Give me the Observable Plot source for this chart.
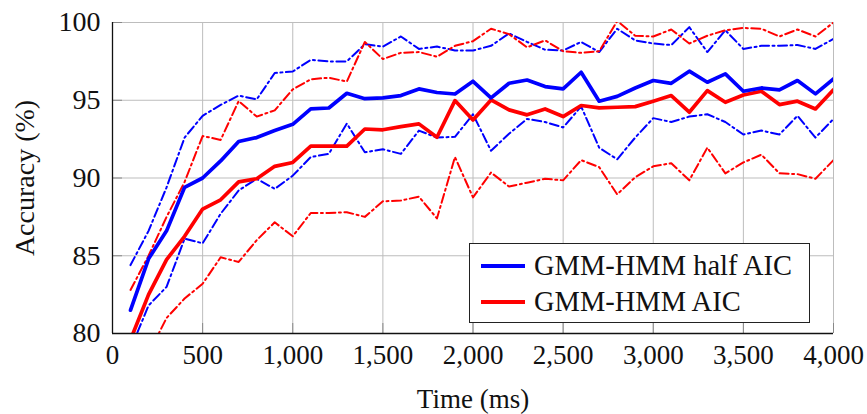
<!DOCTYPE html>
<html>
<head>
<meta charset="utf-8">
<script src="https://cdn.jsdelivr.net/npm/d3@7"></script>
<script src="https://cdn.jsdelivr.net/npm/@observablehq/plot@0.6"></script>
<style>
  html, body { margin: 0; padding: 0; background: white; }
  #wrap { position: relative; width: 867px; height: 414px; }
  .legend { position: absolute; left: 469px; top: 243px; width: 339px; height: 78px;
    border: 1.3px solid #222; background: white; font-family: "Liberation Serif", serif; font-size: 28.5px; color: #111; }
  .legend .row { position: absolute; left: 11px; height: 30px; display: flex; align-items: center; white-space: nowrap; }
  .legend .sw { width: 44px; height: 4px; margin-right: 9px; }
</style>
</head>
<body>
<div id="wrap"></div>
<script>
const times = [100,200,300,400,500,600,700,800,900,1000,1100,1200,1300,1400,1500,1600,1700,1800,1900,2000,
               2100,2200,2300,2400,2500,2600,2700,2800,2900,3000,3100,3200,3300,3400,3500,3600,3700,3800,3900,4000];

const halfMean  = [81.5,84.8,86.6,89.4,90.0,91.1,92.35,92.6,93.05,93.45,94.45,94.5,95.45,95.1,95.15,95.3,95.73,95.5,95.4,96.22,
                   95.15,96.09,96.3,95.88,95.73,96.8,94.94,95.25,95.79,96.27,96.09,96.87,96.16,96.7,95.58,95.79,95.67,96.27,95.41,96.37];
const halfUpper = [84.4,86.6,89.4,92.6,94.0,94.7,95.3,95.05,96.75,96.85,97.6,97.5,97.5,98.6,98.45,99.1,98.3,98.45,98.2,98.2,
                   98.5,99.3,98.75,98.25,98.2,98.75,98.1,99.6,98.85,98.65,98.55,99.7,98.1,99.5,98.3,98.5,98.5,98.55,98.3,98.95];
const halfLower = [79.0,81.8,83.0,86.1,85.8,87.7,89.2,89.95,89.3,90.15,91.35,91.55,93.5,91.65,91.85,91.55,93.05,92.6,92.65,94.1,
                   91.75,92.85,93.8,93.6,93.25,94.6,91.95,91.2,92.6,93.85,93.6,93.95,94.1,93.6,92.8,93.05,92.8,94.0,92.6,93.8];

const aicMean  = [79.6,82.5,84.75,86.25,88.0,88.6,89.75,89.95,90.75,91.0,92.05,92.05,92.05,93.15,93.1,93.3,93.48,92.62,94.98,93.73,
                  95.02,94.38,94.06,94.44,93.95,94.66,94.51,94.55,94.59,94.94,95.3,94.23,95.62,94.87,95.34,95.58,94.72,94.94,94.44,95.67];
const aicUpper = [82.8,85.0,87.5,89.75,92.7,92.45,94.95,93.95,94.35,95.7,96.35,96.45,96.2,98.75,97.65,98.05,98.1,97.8,98.5,98.8,
                  99.6,99.25,98.4,98.85,98.15,98.05,98.15,100.1,99.15,99.1,99.55,98.65,99.15,99.5,99.65,99.6,99.1,99.55,99.1,100.0];
const aicLower = [77.5,78.7,81.0,82.25,83.2,84.9,84.6,86.0,87.15,86.25,87.75,87.75,87.8,87.5,88.5,88.55,88.8,87.4,91.35,88.75,
                  90.35,89.45,89.7,89.95,89.85,91.15,90.7,88.95,90.05,90.75,90.95,89.85,91.95,90.3,91.0,91.5,90.3,90.25,89.95,91.15];

const xTicks = [0,500,1000,1500,2000,2500,3000,3500,4000];
const yTicks = [80,85,90,95,100];
const seriesNames = ["GMM-HMM half AIC", "GMM-HMM AIC"];
const seriesColors = ["#0000ff", "#ff0000"];

const pts = arr => times.map((t, i) => ({t, v: arr[i]}));
const dashOpts = (color) => ({x: "t", y: "v", stroke: color, strokeWidth: 2, strokeDasharray: "9 3.5 2 3.5", clip: true});
const solidOpts = (color) => ({x: "t", y: "v", stroke: color, strokeWidth: 3.7, clip: true});

const chart = Plot.plot({
  width: 867, height: 414,
  marginTop: 22, marginBottom: 81, marginLeft: 112, marginRight: 34,
  style: {fontFamily: "'Liberation Serif', serif", fontSize: "27px", color: "#111", background: "white"},
  x: {domain: [0, 4000]},
  y: {domain: [80, 100]},
  marks: [
    Plot.gridX(xTicks, {stroke: "#bdbdbd", strokeOpacity: 1, strokeWidth: 1}),
    Plot.gridY(yTicks, {stroke: "#bdbdbd", strokeOpacity: 1, strokeWidth: 1}),
    Plot.ruleX(xTicks, {stroke: "#888", strokeWidth: 1, insetTop: 301}),
    Plot.ruleY(yTicks, {stroke: "#888", strokeWidth: 1, insetRight: 711}),
    Plot.axisX(xTicks, {tickSize: 0, tickPadding: 11, tickFormat: d3.format(","), label: "Time (ms)", labelAnchor: "center", labelOffset: 74, labelArrow: "none"}),
    Plot.axisY(yTicks, {tickSize: 0, tickPadding: 12, label: "Accuracy (%)", labelAnchor: "center", labelOffset: 98, labelArrow: "none", fontSize: 28}),
    Plot.lineY(pts(halfUpper), dashOpts(seriesColors[0])),
    Plot.lineY(pts(halfLower), dashOpts(seriesColors[0])),
    Plot.lineY(pts(aicUpper), dashOpts(seriesColors[1])),
    Plot.lineY(pts(aicLower), dashOpts(seriesColors[1])),
    Plot.lineY(pts(aicMean), solidOpts(seriesColors[1])),
    Plot.lineY(pts(halfMean), solidOpts(seriesColors[0])),
    Plot.ruleX([0], {stroke: "#111", strokeWidth: 1.3}),
    Plot.ruleY([80], {stroke: "#111", strokeWidth: 1.3})
  ]
});

const wrap = document.getElementById("wrap");
wrap.appendChild(chart);
const legend = document.createElement("div");
legend.className = "legend";
seriesNames.forEach((name, i) => {
  const row = document.createElement("div");
  row.className = "row";
  row.style.top = (7 + i * 36) + "px";
  const sw = document.createElement("span");
  sw.className = "sw";
  sw.style.background = seriesColors[i];
  const lab = document.createElement("span");
  lab.textContent = name;
  row.appendChild(sw); row.appendChild(lab);
  legend.appendChild(row);
});
wrap.appendChild(legend);
</script>
</body>
</html>
